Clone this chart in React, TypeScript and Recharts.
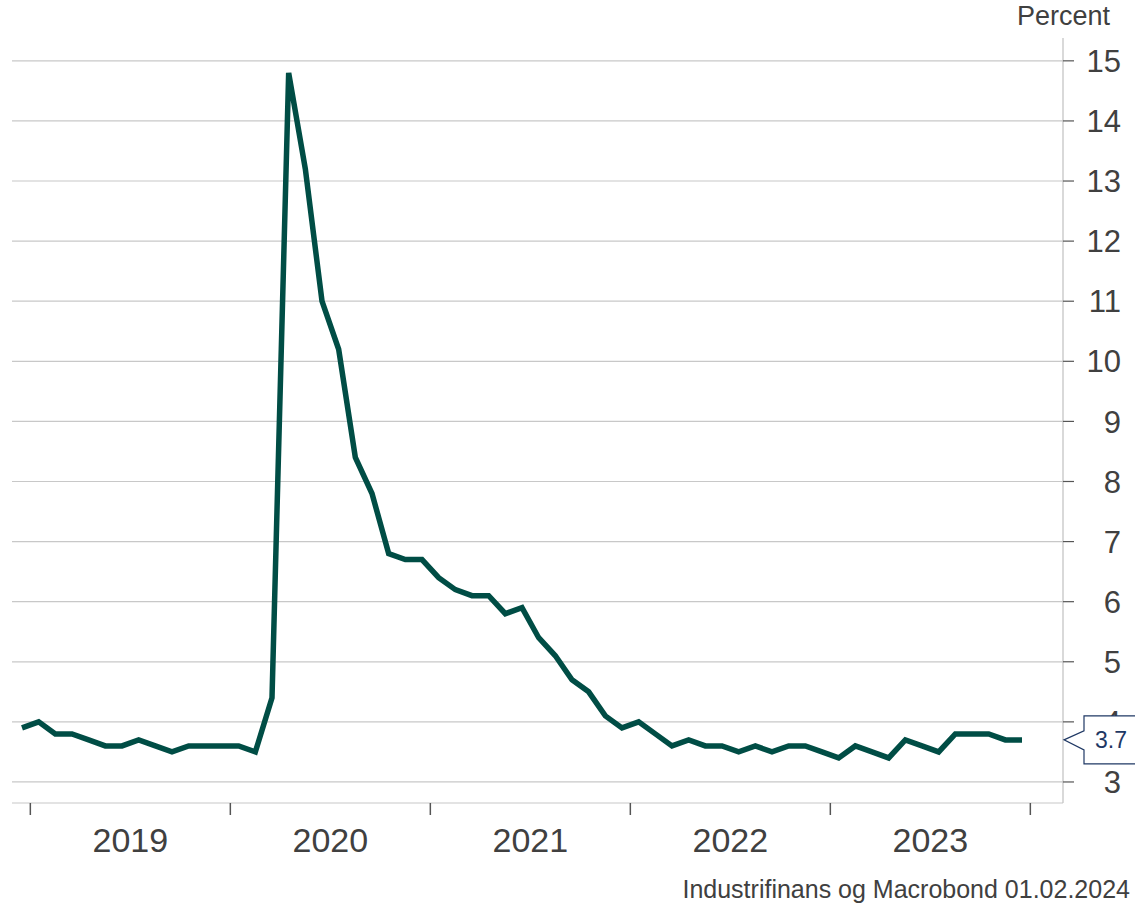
import { LineChart, Line, XAxis, YAxis, CartesianGrid, ReferenceDot } from 'recharts';

// monthly, Dec 2018 .. Dec 2023
const months = [
  '2018-12',
  '2019-01', '2019-02', '2019-03', '2019-04', '2019-05', '2019-06', '2019-07', '2019-08', '2019-09', '2019-10', '2019-11', '2019-12',
  '2020-01', '2020-02', '2020-03', '2020-04', '2020-05', '2020-06', '2020-07', '2020-08', '2020-09', '2020-10', '2020-11', '2020-12',
  '2021-01', '2021-02', '2021-03', '2021-04', '2021-05', '2021-06', '2021-07', '2021-08', '2021-09', '2021-10', '2021-11', '2021-12',
  '2022-01', '2022-02', '2022-03', '2022-04', '2022-05', '2022-06', '2022-07', '2022-08', '2022-09', '2022-10', '2022-11', '2022-12',
  '2023-01', '2023-02', '2023-03', '2023-04', '2023-05', '2023-06', '2023-07', '2023-08', '2023-09', '2023-10', '2023-11', '2023-12',
];

const unemployment = [
  3.9,
  4.0, 3.8, 3.8, 3.7, 3.6, 3.6, 3.7, 3.6, 3.5, 3.6, 3.6, 3.6,
  3.6, 3.5, 4.4, 14.8, 13.2, 11.0, 10.2, 8.4, 7.8, 6.8, 6.7, 6.7,
  6.4, 6.2, 6.1, 6.1, 5.8, 5.9, 5.4, 5.1, 4.7, 4.5, 4.1, 3.9,
  4.0, 3.8, 3.6, 3.7, 3.6, 3.6, 3.5, 3.6, 3.5, 3.6, 3.6, 3.5,
  3.4, 3.6, 3.5, 3.4, 3.7, 3.6, 3.5, 3.8, 3.8, 3.8, 3.7, 3.7,
];

const years = ['2019', '2020', '2021', '2022', '2023'];
const yTicks = [3, 4, 5, 6, 7, 8, 9, 10, 11, 12, 13, 14, 15];

const data = months.map((m, i) => ({ t: i, month: m, value: unemployment[i] }));

// year boundaries sit half a month before January's mid-month point
const yearStarts = [...years.map((_, i) => 0.5 + i * 12), 0.5 + years.length * 12];
const yearMids = years.map((_, i) => 6.5 + i * 12);
const xTicks = [...yearStarts, ...yearMids].sort((a, b) => a - b);

const X_MIN = -0.6;
const X_MAX = 62.46;
const FONT = '"Liberation Sans", Arial, sans-serif';
const TEXT = '#404040';
const LINE = '#004d45';
const last = data[data.length - 1];

function XTick(props: any) {
  const { x, y, payload } = props;
  const v = payload.value;
  const idx = yearMids.indexOf(v);
  if (idx >= 0) {
    return (
      <text x={x} y={y + 49} textAnchor="middle" fill={TEXT} fontSize={34} fontFamily={FONT}>
        {years[idx]}
      </text>
    );
  }
  return <line x1={x} x2={x} y1={y} y2={y + 12} stroke="#555" strokeWidth={1.5} />;
}

function YTick(props: any) {
  const { x, y, payload } = props;
  return (
    <g>
      <line x1={x} x2={x + 11} y1={y} y2={y} stroke="#555" strokeWidth={1.2} />
      <text x={x + 58} y={y} dy="0.36em" textAnchor="end" fill={TEXT} fontSize={31} fontFamily={FONT}>
        {payload.value}
      </text>
    </g>
  );
}

function Callout(props: any) {
  const { cx, cy } = props;
  const l = cx + 21;
  const r = cx + 80;
  const d = `M${cx + 1},${cy} L${l},${cy - 9} L${l},${cy - 24} L${r},${cy - 24} L${r},${cy + 24} L${l},${cy + 24} L${l},${cy + 10} Z`;
  return (
    <g>
      <path d={d} fill="#fff" stroke="#1f3864" strokeWidth={1.2} />
      <text x={cx + 32} y={cy} dy="0.36em" textAnchor="start" fill="#1f3864" fontSize={23} fontFamily={FONT}>
        {last.value.toFixed(1)}
      </text>
    </g>
  );
}

export default function App() {
  return (
    <div style={{ position: 'absolute', left: 0, top: 0, width: 1135, height: 907, background: '#fff', fontFamily: FONT }}>
      <LineChart width={1135} height={907} data={data} margin={{ top: 38, right: 0, bottom: 40, left: 12 }}>
        <CartesianGrid vertical={false} horizontalValues={yTicks} stroke="#c8c8c8" strokeWidth={1.2} />
        <XAxis
          dataKey="t"
          type="number"
          domain={[X_MIN, X_MAX]}
          ticks={xTicks}
          interval={0}
          allowDataOverflow
          height={64}
          tickLine={false}
          tickSize={0}
          tickMargin={0}
          axisLine={{ stroke: '#c8c8c8', strokeWidth: 1.2 }}
          tick={<XTick />}
        />
        <YAxis
          orientation="right"
          domain={[2.65, 15.38]}
          ticks={yTicks}
          interval={0}
          allowDataOverflow
          width={72}
          tickLine={false}
          tickSize={0}
          tickMargin={0}
          axisLine={{ stroke: '#c0c0c0', strokeWidth: 1.2 }}
          tick={<YTick />}
        />
        <Line
          type="linear"
          dataKey="value"
          stroke={LINE}
          strokeWidth={5.5}
          dot={false}
          activeDot={false}
          isAnimationActive={false}
        />
        <ReferenceDot x={X_MAX} y={last.value} shape={<Callout />} ifOverflow="visible" zIndex={2000} />
      </LineChart>
      <div style={{ position: 'absolute', right: 25, top: 1, fontSize: 27, color: TEXT }}>Percent</div>
      <div style={{ position: 'absolute', right: 5, top: 875, fontSize: 25, color: TEXT }}>
        Industrifinans og Macrobond 01.02.2024
      </div>
    </div>
  );
}
